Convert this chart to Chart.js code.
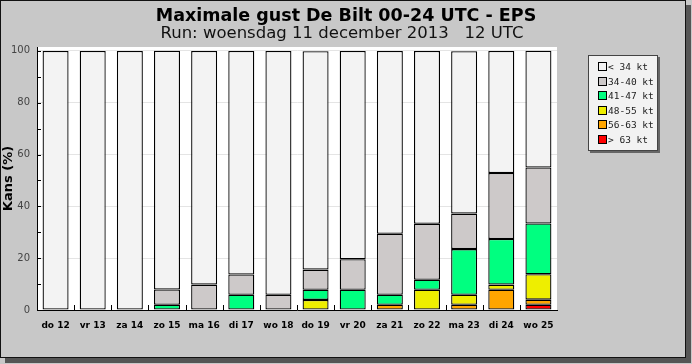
<!DOCTYPE html>
<html>
<head>
<meta charset="utf-8">
<script src="https://cdn.jsdelivr.net/npm/chart.js@4/dist/chart.umd.min.js"></script>
<style>
    html, body { margin: 0; padding: 0; background: #c8c8c8; }
    #frame {
        position: absolute; left: 0; top: 0;
        width: 684px; height: 356px;
        border: 1px solid #111;
        background: #c8c8c8;
        box-shadow: 5px 5px 0 #555;
    }
    #chart { display: block; }
    .title { position: absolute; left: 0; text-align: center; white-space: pre; color: #000; font-family: "DejaVu Sans", sans-serif; }
    #title1 { top: 3px; width: 690px; font-size: 17.5px; font-weight: bold; line-height: 22px; }
    #title2 { top: 22px; width: 682px; font-size: 16.5px; line-height: 20px; color: #111; }
    #legend {
        position: absolute; left: 587px; top: 54px;
        width: 68px; height: 94px;
        background: #f2f2f2;
        border: 1px solid #444;
        box-shadow: 2px 2px 0 #666;
        font: 9.5px "DejaVu Sans Mono", monospace;
        color: #222;
    }
    .row { position: absolute; left: 9px; height: 10px; line-height: 10px; white-space: pre; }
    .sw { display: inline-block; width: 7px; height: 7px; border: 1px solid #000; vertical-align: -1px; margin-right: 1px; }
</style>
</head>
<body>
<div id="frame">
    <canvas id="chart" width="684" height="356"></canvas>
    <div class="title" id="title1">Maximale gust De Bilt 00-24 UTC - EPS</div>
    <div class="title" id="title2">Run: woensdag 11 december 2013   12 UTC</div>
    <div id="legend"></div>
</div>
<script>
// Maximale gust De Bilt - EPS kansen per klasse (%)
const days = ["do 12", "vr 13", "za 14", "zo 15", "ma 16", "di 17", "wo 18", "do 19", "vr 20", "za 21", "zo 22", "ma 23", "di 24", "wo 25"]
const above63 = [0, 0, 0, 0, 0, 0, 0, 0, 0, 0, 0, 0, 0, 2.0]
const kt56to63 = [0, 0, 0, 0, 0, 0, 0, 0, 0, 2.0, 0, 2.0, 7.8, 2.0]
const kt48to55 = [0, 0, 0, 0, 0, 0, 0, 3.9, 0, 0, 7.8, 3.9, 2.0, 9.8]
const kt41to47 = [0, 0, 0, 2.0, 0, 5.9, 0, 3.9, 7.8, 3.9, 3.9, 17.6, 17.6, 19.6]
const kt34to40 = [0, 0, 0, 5.9, 9.8, 7.8, 5.9, 7.8, 11.8, 23.5, 21.6, 13.7, 25.5, 21.6]
const below34 = [100, 100, 100, 92.2, 90.2, 86.3, 94.1, 84.3, 80.4, 70.6, 66.7, 62.7, 47.1, 45.1]
const yTicks = [0, 20, 40, 60, 80, 100]
const yMinorTicks = [10, 30, 50, 70, 90]

const classLabels = ["> 63 kt", "56-63 kt", "48-55 kt", "41-47 kt", "34-40 kt", "< 34 kt"]
const classColors = ["#ff0000", "#ffa500", "#eeee00", "#00ff80", "#cdc9c9", "#f3f3f3"]
const classData = [above63, kt56to63, kt48to55, kt41to47, kt34to40, below34]

// white plot area + small inward tick marks like the original
const plotDecor = {
    id: "plotDecor",
    beforeDraw(chart) {
        const a = chart.chartArea
        const c = chart.ctx
        c.save()
        c.fillStyle = "#ffffff"
        c.fillRect(a.left, a.top, a.right - a.left, a.bottom - a.top)
        c.restore()
    },
    afterDraw(chart) {
        const a = chart.chartArea
        const c = chart.ctx
        const x = chart.scales.x
        const y = chart.scales.y
        c.save()
        c.strokeStyle = "#000"
        c.lineWidth = 1
        c.beginPath()
        for (let i = 1; i < days.length; i++) {
            const px = Math.round((x.getPixelForValue(i - 1) + x.getPixelForValue(i)) / 2) + 0.5
            c.moveTo(px, a.bottom)
            c.lineTo(px, a.bottom - 5)
        }
        yMinorTicks.concat(yTicks).forEach((v) => {
            const py = Math.round(y.getPixelForValue(v)) + 0.5
            c.moveTo(a.left, py)
            c.lineTo(a.left + 4, py)
        })
        c.stroke()
        c.restore()
    },
}

const ctx = document.getElementById("chart").getContext("2d")
new Chart(ctx, {
    type: "bar",
    data: {
        labels: days,
        datasets: classData.map((d, i) => ({
            label: classLabels[i],
            data: d,
            backgroundColor: classColors[i],
            borderColor: "#000",
            borderWidth: 1.3,
            borderSkipped: false,
            categoryPercentage: 0.7,
            barPercentage: 1.0,
        })),
    },
    options: {
        responsive: false,
        animation: false,
        events: [],
        layout: { padding: { left: 0, right: 128, top: 46, bottom: 27 } },
        plugins: {
            legend: { display: false },
            tooltip: { enabled: false },
        },
        scales: {
            x: {
                stacked: true,
                grid: { display: false },
                border: { color: "#000", width: 1 },
                ticks: {
                    color: "#000",
                    padding: 2,
                    font: { family: "DejaVu Sans", size: 9, weight: "bold" },
                },
                afterFit: (s) => { s.height = 20 },
            },
            y: {
                stacked: true,
                min: 0,
                max: 101.5,
                afterBuildTicks: (s) => { s.ticks = yTicks.map((v) => ({ value: v })) },
                grid: { color: "#e4e4e4", drawTicks: false },
                border: { color: "#000", width: 1 },
                ticks: {
                    color: "#444",
                    padding: 7,
                    font: { family: "DejaVu Sans", size: 10 },
                },
                title: {
                    display: true,
                    text: "Kans (%)",
                    color: "#000",
                    padding: 0,
                    font: { family: "DejaVu Sans", size: 13, weight: "bold" },
                },
                afterFit: (s) => { s.width = 36 },
            },
        },
    },
    plugins: [plotDecor],
})

// HTML legend, top to bottom: < 34 kt ... > 63 kt
const legend = document.getElementById("legend")
legend.innerHTML = classLabels
    .map((label, i) => ({ label, color: classColors[i] }))
    .reverse()
    .map((item, r) => `<div class="row" style="top:${6 + r * 14.6}px"><span class="sw" style="background:${item.color}"></span>${item.label}</div>`)
    .join("")
</script>
</body>
</html>
